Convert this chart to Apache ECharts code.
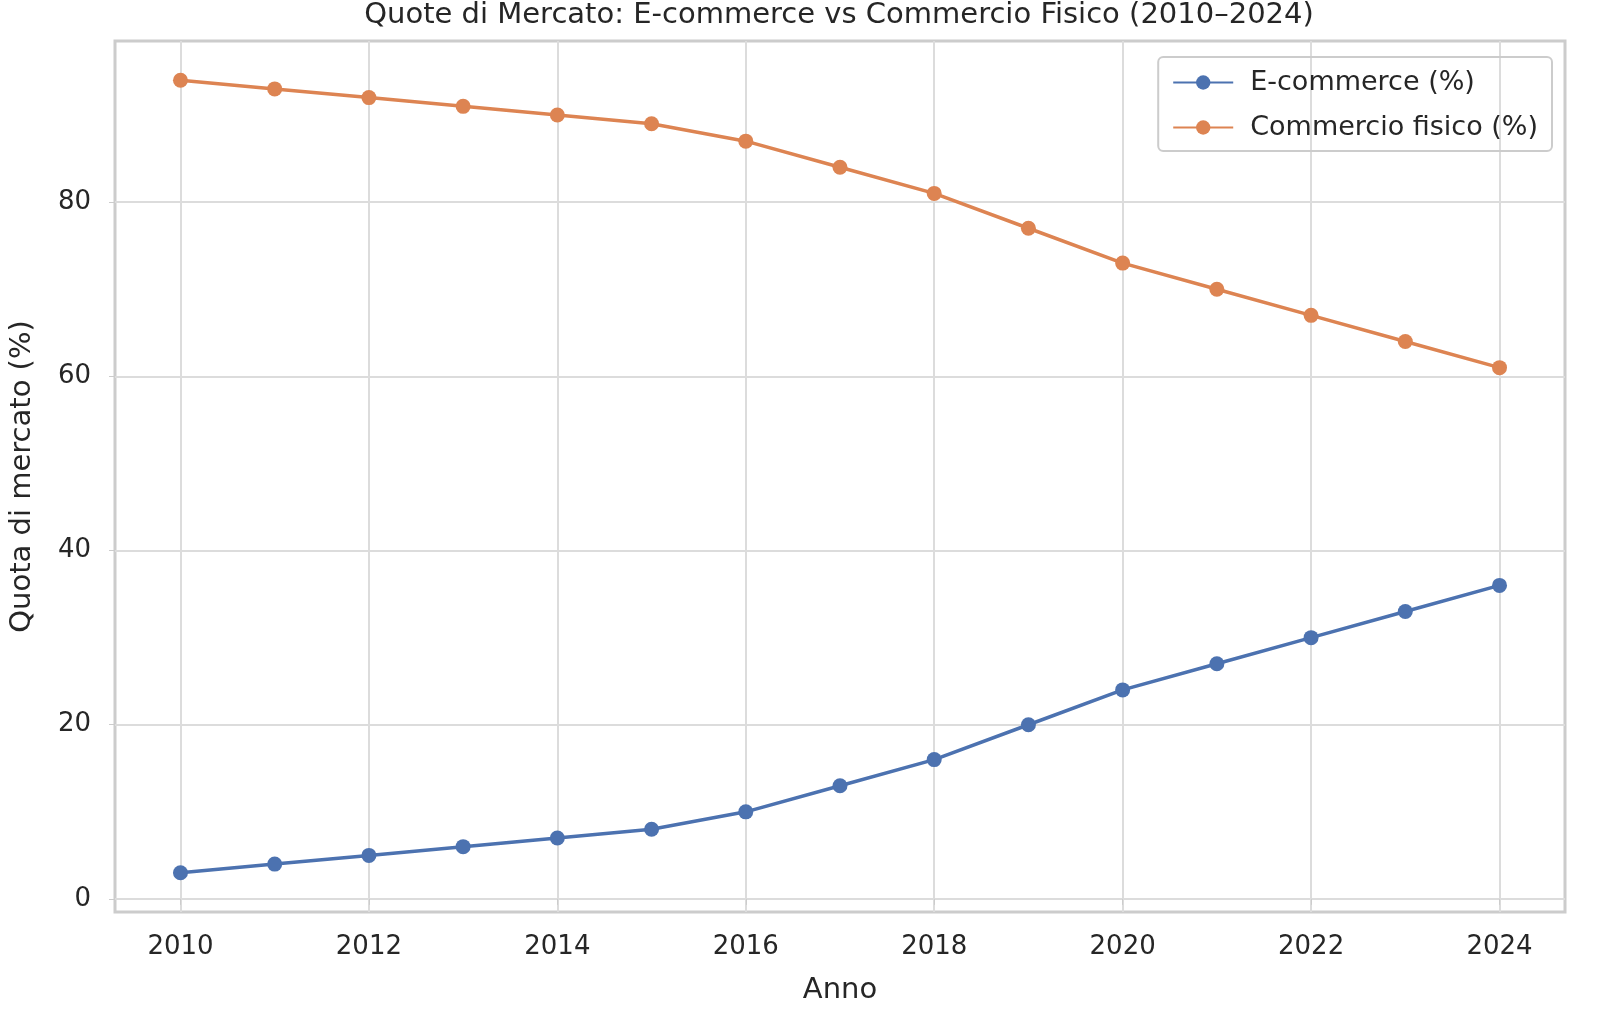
<!DOCTYPE html>
<html>
<head>
<meta charset="utf-8">
<script src="https://cdn.jsdelivr.net/npm/echarts@6/dist/echarts.min.js"></script>
<style>html,body{margin:0;background:#fff}#chart{width:1600px;height:1019px}</style>
</head>
<body>
<div id="chart"></div>
<script>
// Dati
const years = [2010, 2011, 2012, 2013, 2014, 2015, 2016, 2017, 2018, 2019, 2020, 2021, 2022, 2023, 2024];
const ecommerce = [3, 4, 5, 6, 7, 8, 10, 13, 16, 20, 24, 27, 30, 33, 36];
const fisico = [94, 93, 92, 91, 90, 89, 87, 84, 81, 77, 73, 70, 67, 64, 61];
const xTicks = [2010, 2012, 2014, 2016, 2018, 2020, 2022, 2024];
const yTicks = [0, 20, 40, 60, 80];

const FONT = 'DejaVu Sans';
const TEXT = '#262626';

const chart = echarts.init(document.getElementById('chart'));

const option = {
    backgroundColor: '#fff',
    animation: false,
    textStyle: { fontFamily: FONT },
    title: {
        text: 'Quote di Mercato: E-commerce vs Commercio Fisico (2010\u20132024)',
        left: 834, textAlign: 'center', top: -4,
        textStyle: { fontFamily: FONT, fontSize: 29, fontWeight: 'normal', color: TEXT }
    },
    grid: {
        left: 104, right: 35, top: 41, bottom: 107,
        show: true, borderColor: '#cccccc', borderWidth: 3, backgroundColor: '#fff'
    },
    legend: {
        right: 48, top: 57, orient: 'vertical',
        itemWidth: 60, itemHeight: 18, itemGap: 18,
        padding: [12, 14, 10, 14],
        borderColor: '#cccccc', borderWidth: 2, borderRadius: 5,
        textStyle: { fontFamily: FONT, fontSize: 27, color: TEXT, padding: [0, 0, 0, 12] },
        data: ['E-commerce (%)', 'Commercio fisico (%)']
    },
    xAxis: {
        type: 'value', min: 2009.305, max: 2024.695,
        name: 'Anno', nameLocation: 'middle', nameGap: 64,
        nameTextStyle: { fontFamily: FONT, fontSize: 29, color: TEXT },
        axisLine: { show: false },
        axisTick: { show: true, customValues: xTicks, length: 6, lineStyle: { color: '#cccccc' } },
        axisLabel: { customValues: xTicks, fontSize: 26, color: TEXT, margin: 22, formatter: v => String(v) },
        splitLine: { show: true, lineStyle: { color: '#dcdcdc', width: 2 } }
    },
    yAxis: {
        type: 'value', min: -1.5, max: 98.5,
        name: 'Quota di mercato (%)', nameLocation: 'middle', nameGap: 78,
        nameTextStyle: { fontFamily: FONT, fontSize: 29, color: TEXT },
        axisLine: { show: false },
        axisTick: { show: true, customValues: yTicks, length: 6, lineStyle: { color: '#cccccc' } },
        axisLabel: { customValues: yTicks, fontSize: 26, color: TEXT, margin: 24 },
        splitLine: { show: true, lineStyle: { color: '#dcdcdc', width: 2 } }
    },
    series: [
        {
            name: 'E-commerce (%)', type: 'line',
            data: years.map((y, i) => [y, ecommerce[i]]),
            color: '#4c72b0', symbol: 'circle', symbolSize: 15,
            lineStyle: { width: 3.5 }
        },
        {
            name: 'Commercio fisico (%)', type: 'line',
            data: years.map((y, i) => [y, fisico[i]]),
            color: '#dd8452', symbol: 'circle', symbolSize: 15,
            lineStyle: { width: 3.5 }
        }
    ]
};

chart.setOption(option);
</script>
</body>
</html>
